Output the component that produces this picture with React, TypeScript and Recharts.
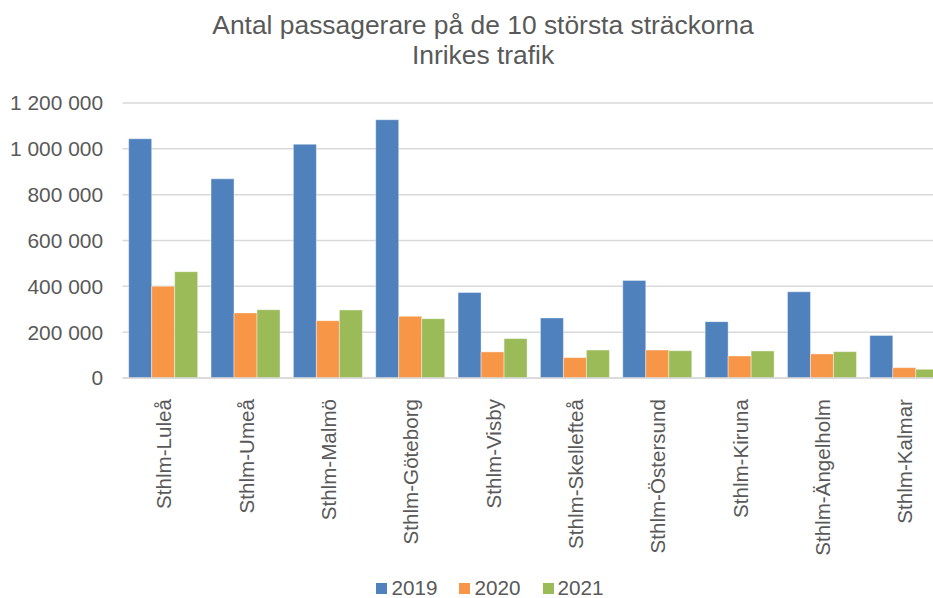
import React from 'react';
import { BarChart, Bar, XAxis, YAxis, CartesianGrid, Legend } from 'recharts';

const categories = [
  'Sthlm-Luleå',
  'Sthlm-Umeå',
  'Sthlm-Malmö',
  'Sthlm-Göteborg',
  'Sthlm-Visby',
  'Sthlm-Skellefteå',
  'Sthlm-Östersund',
  'Sthlm-Kiruna',
  'Sthlm-Ängelholm',
  'Sthlm-Kalmar',
];
const v2019 = [1044000, 869000, 1020000, 1127000, 373000, 262000, 426000, 246000, 376000, 186000];
const v2020 = [400000, 284000, 250000, 269000, 114000, 89000, 122000, 96000, 105000, 45000];
const v2021 = [464000, 298000, 297000, 259000, 172000, 122000, 119000, 118000, 115000, 38000];
const yTicks = [0, 200000, 400000, 600000, 800000, 1000000, 1200000];
const titleLines = ['Antal passagerare på de 10 största sträckorna', 'Inrikes trafik'];

const series = [
  { key: 'y2019', name: '2019', color: '#4F81BD' },
  { key: 'y2020', name: '2020', color: '#F79646' },
  { key: 'y2021', name: '2021', color: '#9BBB59' },
];

const data = categories.map((c, i) => ({
  name: c,
  y2019: v2019[i],
  y2020: v2020[i],
  y2021: v2021[i],
}));

const FONT = '"Liberation Sans", Arial, sans-serif';
const TEXT = '#595959';

const fmt = (v: number) => String(v).replace(/\B(?=(\d{3})+(?!\d))/g, ' ');

const XTick = (props: any) => {
  const { x, y, payload } = props;
  return (
    <text
      x={x}
      y={y}
      transform={`rotate(-90 ${x} ${y})`}
      textAnchor="end"
      dominantBaseline="central"
      fontSize={20.6}
      fontFamily={FONT}
      fill={TEXT}
    >
      {payload.value}
    </text>
  );
};

const LegendContent = (props: any) => {
  const payload = props.payload || [];
  return (
    <div
      style={{
        display: 'flex',
        justifyContent: 'center',
        alignItems: 'center',
        height: 20,
        paddingLeft: 34,
        fontFamily: FONT,
        fontSize: 20.7,
        color: TEXT,
      }}
    >
      {payload.map((p: any, i: number) => (
        <div
          key={i}
          style={{ display: 'flex', alignItems: 'center', marginRight: i < payload.length - 1 ? 22 : 0 }}
        >
          <span style={{ display: 'inline-block', width: 11, height: 11, background: p.color, marginRight: 4 }} />
          <span style={{ lineHeight: '20px' }}>{p.value}</span>
        </div>
      ))}
    </div>
  );
};

export default function App() {
  return (
    <div style={{ width: 933, height: 598, overflow: 'hidden', position: 'relative', background: '#fff' }}>
      <style>{`body{margin:0;}`}</style>
      <BarChart
        width={967}
        height={598}
        data={data}
        margin={{ top: 103, right: 21, left: 0, bottom: 0 }}
        barCategoryGap="7.5%"
        barGap={0}
      >
        <text x={483} y={33.5} textAnchor="middle" fontSize={26.4} fontFamily={FONT} fill={TEXT}>
          {titleLines[0]}
        </text>
        <text x={483} y={63.5} textAnchor="middle" fontSize={26.4} fontFamily={FONT} fill={TEXT}>
          {titleLines[1]}
        </text>
        <CartesianGrid vertical={false} stroke="#D9D9D9" strokeWidth={1.5} />
        <XAxis
          dataKey="name"
          interval={0}
          tickLine={false}
          tickSize={0}
          tickMargin={21}
          height={200}
          axisLine={{ stroke: '#D9D9D9', strokeWidth: 1.5 }}
          tick={<XTick />}
        />
        <YAxis
          width={122.5}
          domain={[0, 1200000]}
          ticks={yTicks}
          tickFormatter={fmt}
          axisLine={false}
          tickLine={false}
          tickSize={0}
          tickMargin={19.5}
          tick={{ fontSize: 20.9, fontFamily: FONT, fill: TEXT }}
        />
        <Legend verticalAlign="bottom" align="center" content={<LegendContent />} />
        {series.map((s) => (
          <Bar
            key={s.key}
            dataKey={s.key}
            name={s.name}
            fill={s.color}
            stroke="#ffffff"
            strokeOpacity={0.5}
            strokeWidth={0.8}
            legendType="square"
            isAnimationActive={false}
          />
        ))}
      </BarChart>
    </div>
  );
}
